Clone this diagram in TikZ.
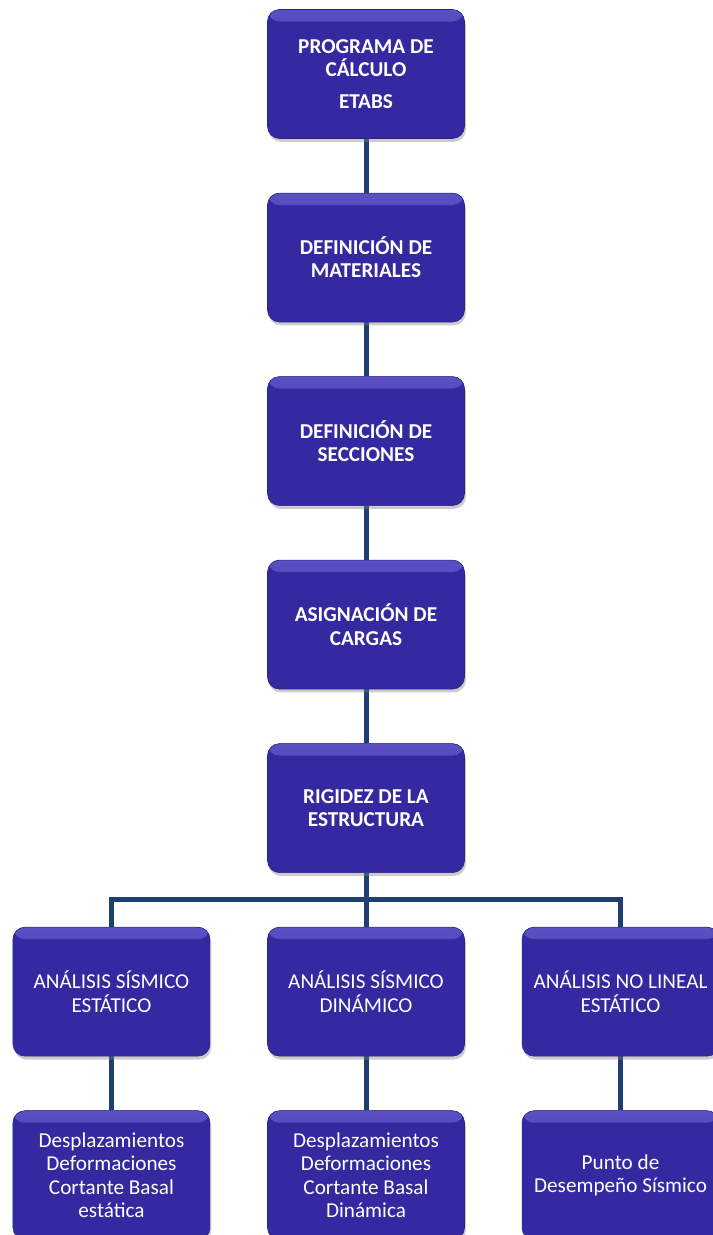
\documentclass[tikz,border=0pt]{standalone}
\usepackage{fontspec}
\setmainfont{Carlito}
\usetikzlibrary{positioning, calc, shadows, backgrounds}

\definecolor{boxfill}{HTML}{3429A0}
\definecolor{boxedge}{HTML}{2A2185}
\definecolor{boxhigh}{HTML}{5A50C4}
\definecolor{linkcol}{HTML}{1F3F6E}

\begin{document}
\begin{tikzpicture}[node distance=40.5pt and 42.75pt, box/.style={draw=boxedge, fill=boxfill, rounded corners=9pt, align=center, text=white, minimum width=147.75pt, minimum height=96.75pt, font=\fontsize{15.9pt}{17.4pt}\selectfont, drop shadow={opacity=0.4, shadow xshift=1pt, shadow yshift=-2.5pt}, path picture={\shade[top color=boxhigh, bottom color=boxfill] (path picture bounding box.north west) rectangle ([yshift=-9pt]path picture bounding box.north east);}}, head/.style={box, font=\fontsize{15.9pt}{17.4pt}\selectfont\bfseries}, link/.style={draw=linkcol, line width=3.75pt}]

\useasboundingbox (0,0) rectangle (534.75pt,-926.25pt);

\node[head] (prog) at (274.5pt,-55.5pt) {PROGRAMA DE\\CÁLCULO\\[7pt]ETABS};
\node[head, below=of prog] (mat) {DEFINICIÓN DE\\MATERIALES};
\node[head, below=of mat] (sec) {DEFINICIÓN DE\\SECCIONES};
\node[head, below=of sec] (carg) {ASIGNACIÓN DE\\CARGAS};
\node[head, below=of carg] (rig) {RIGIDEZ DE LA\\ESTRUCTURA};

\node[box, below=of rig] (din) {ANÁLISIS SÍSMICO\\DINÁMICO};
\node[box, left=of din] (est) {ANÁLISIS SÍSMICO\\ESTÁTICO};
\node[box, right=of din] (nolin) {ANÁLISIS NO LINEAL\\ESTÁTICO};

\node[box, below=of est] (resest) {Desplazamientos\\Deformaciones\\Cortante Basal\\estática};
\node[box, below=of din] (resdin) {Desplazamientos\\Deformaciones\\Cortante Basal\\Dinámica};
\node[box, below=of nolin] (resnl) {Punto de\\Desempeño Sísmico};

\coordinate (split) at ($(rig.south)!0.5!(din.north)$);

\begin{scope}[on background layer]
\draw[link] (prog) -- (mat);
\draw[link] (mat) -- (sec);
\draw[link] (sec) -- (carg);
\draw[link] (carg) -- (rig);
\draw[link] (rig) -- (din);
\draw[link] (est.north) |- (split) -| (nolin.north);
\draw[link] (est) -- (resest);
\draw[link] (din) -- (resdin);
\draw[link] (nolin) -- (resnl);
\end{scope}

\end{tikzpicture}
\end{document}
